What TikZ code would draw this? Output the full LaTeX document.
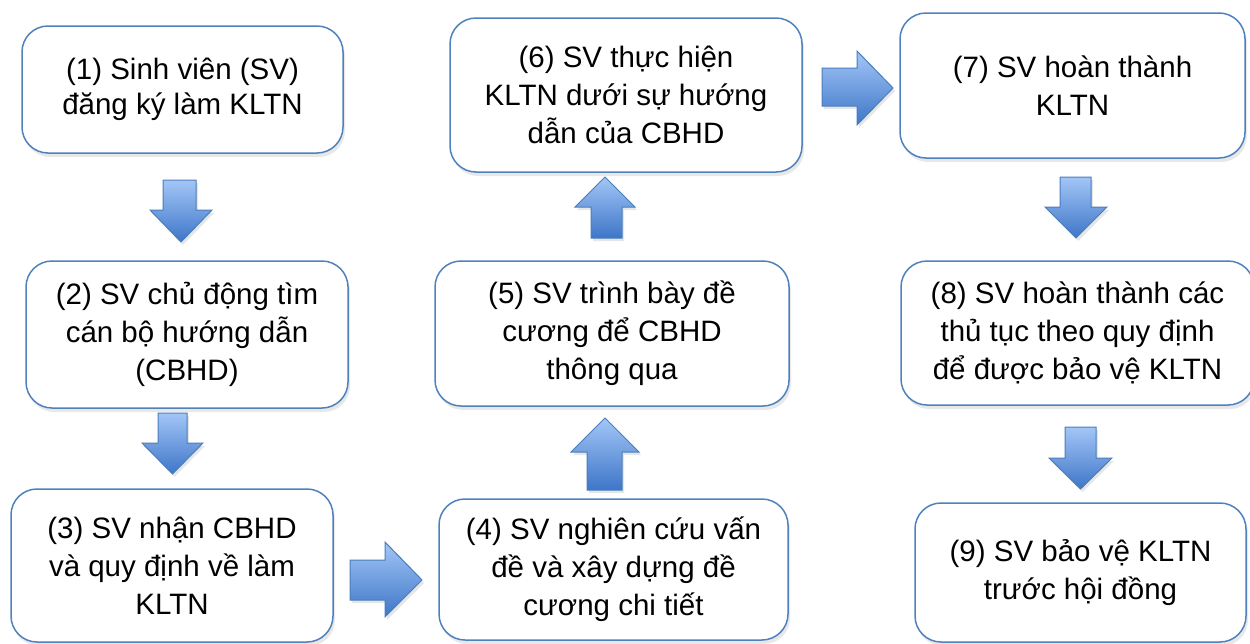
\documentclass[tikz,border=0pt]{standalone}
\usepackage{fontspec}
\setmainfont{Liberation Sans}
\usetikzlibrary{shadows}
\definecolor{boxedge}{RGB}{79,129,189}
\definecolor{arrowlight}{RGB}{163,198,247}
\definecolor{arrowdark}{RGB}{62,118,200}
\definecolor{arrowedge}{RGB}{74,126,187}
\tikzset{
  stepbox/.style={rectangle, rounded corners=26pt, draw=boxedge, line width=1.5pt,
    fill=white, align=center, inner sep=0pt,
    font=\fontsize{29.5}{38}\selectfont,
    drop shadow={opacity=0.18, shadow xshift=2pt, shadow yshift=-4pt}},
  barrow/.style={draw=arrowedge, line width=1pt, top color=arrowlight, bottom color=arrowdark,
    drop shadow={opacity=0.2, shadow xshift=2pt, shadow yshift=-3pt}}
}
\begin{document}
\begin{tikzpicture}[x=1pt,y=-1pt]
\useasboundingbox (0,0) rectangle (1250,643);
\clip (0,0) rectangle (1250,643);
% boxes
\node[stepbox, minimum width=321pt, minimum height=127pt, font=\fontsize{29.5}{35}\selectfont] (b1) at (182.5,89.5) {(1) Sinh viên (SV)\\đăng ký làm KLTN};
\node[stepbox, minimum width=322pt, minimum height=147pt] (b2) at (187,334.5) {(2) SV chủ động tìm\\cán bộ hướng dẫn\\(CBHD)};
\node[stepbox, minimum width=322pt, minimum height=153pt] (b3) at (172,565.5) {(3) SV nhận CBHD\\và quy định về làm\\KLTN};
\node[stepbox, minimum width=349pt, minimum height=141pt] (b4) at (613.5,569.5) {(4) SV nghiên cứu vấn\\đề và xây dựng đề\\cương chi tiết};
\node[stepbox, minimum width=354pt, minimum height=145pt] (b5) at (612,333.5) {(5) SV trình bày đề\\cương để CBHD\\thông qua};
\node[stepbox, minimum width=352pt, minimum height=154pt] (b6) at (626,95) {(6) SV thực hiện\\KLTN dưới sự hướng\\dẫn của CBHD};
\node[stepbox, minimum width=345pt, minimum height=145pt] (b7) at (1072.5,85.5) {(7) SV hoàn thành\\KLTN};
\node[stepbox, minimum width=353pt, minimum height=144pt] (b8) at (1077.5,333) {(8) SV hoàn thành các\\thủ tục theo quy định\\để được bảo vệ KLTN};
\node[stepbox, minimum width=331pt, minimum height=139pt] (b9) at (1080.5,572.5) {(9) SV bảo vệ KLTN\\trước hội đồng};
% block arrows
\path[barrow] (163,180) -- (196,180) -- (196,210) -- (212,210) -- (181,242) -- (150,210) -- (163,210) -- cycle;
\path[barrow] (158,413) -- (187,413) -- (187,443) -- (203,443) -- (172.5,474) -- (142,443) -- (158,443) -- cycle;
\path[barrow] (350,560) -- (385,560) -- (385,542) -- (422,580) -- (385,617) -- (385,600) -- (350,600) -- cycle;
\path[barrow] (605,418) -- (639,452) -- (622,452) -- (622,490) -- (587,490) -- (587,452) -- (571,452) -- cycle;
\path[barrow] (605,177) -- (635,207) -- (622,207) -- (622,238) -- (591,238) -- (591,207) -- (575,207) -- cycle;
\path[barrow] (822,68) -- (857,68) -- (857,51) -- (893,88) -- (857,125) -- (857,106) -- (822,106) -- cycle;
\path[barrow] (1060,177) -- (1091,177) -- (1091,207) -- (1107,207) -- (1076,238) -- (1045,207) -- (1060,207) -- cycle;
\path[barrow] (1065,427) -- (1096,427) -- (1096,458) -- (1112,458) -- (1080.5,489) -- (1049,458) -- (1065,458) -- cycle;
\end{tikzpicture}
\end{document}
